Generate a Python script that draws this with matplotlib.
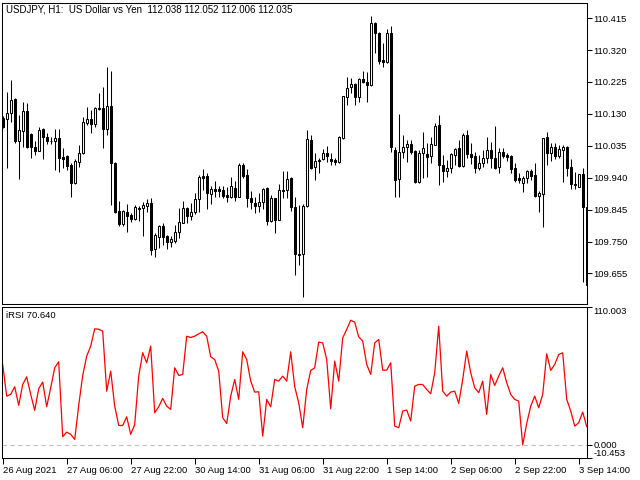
import matplotlib
matplotlib.use("Agg")
import matplotlib.pyplot as plt
import numpy as np

# USDJPY H1 candles
opens = [110.118, 110.115, 110.132, 110.174, 110.049, 110.079, 110.138, 110.070, 110.031, 110.019,
         110.085, 110.061, 110.050, 110.049, 110.058, 110.001, 110.004, 109.978, 109.924, 109.987,
         110.013, 110.103, 110.115, 110.100, 110.147, 110.147, 110.085, 110.153, 109.984, 109.841,
         109.802, 109.838, 109.829, 109.817, 109.850, 109.850, 109.856, 109.865, 109.727, 109.763,
         109.796, 109.766, 109.748, 109.751, 109.778, 109.805, 109.850, 109.826, 109.838, 109.876,
         109.945, 109.945, 109.891, 109.906, 109.906, 109.903, 109.888, 109.882, 109.909, 109.882,
         109.978, 109.948, 109.879, 109.864, 109.856, 109.867, 109.909, 109.811, 109.879, 109.814,
         109.903, 109.903, 109.939, 109.853, 109.713, 109.713, 109.856, 110.052, 109.972, 109.993,
         109.996, 110.013, 109.996, 109.993, 109.987, 110.058, 110.180, 110.210, 110.219, 110.180,
         110.234, 110.225, 110.216, 110.401, 110.371, 110.290, 110.284, 110.371, 110.022, 109.936,
         110.016, 110.031, 110.040, 110.019, 109.927, 110.013, 110.010, 110.004, 110.037, 110.097,
         109.978, 109.960, 109.969, 110.007, 110.028, 109.975, 110.067, 110.010, 110.004, 109.969,
         109.984, 109.998, 110.022, 109.998, 109.972, 110.016, 110.007, 110.004, 109.969, 109.939,
         109.924, 109.939, 109.960, 109.948, 109.885, 109.891, 110.061, 110.013, 110.031, 110.004,
         110.022, 110.031, 109.972, 109.919, 109.912, 109.951, 109.853]
highs = [110.124, 110.195, 110.231, 110.177, 110.127, 110.165, 110.162, 110.073, 110.049, 110.091,
         110.088, 110.073, 110.061, 110.085, 110.085, 110.028, 110.007, 109.984, 109.996, 110.037,
         110.121, 110.150, 110.141, 110.150, 110.192, 110.210, 110.269, 110.258, 109.986, 109.870,
         109.843, 109.861, 109.835, 109.859, 109.856, 109.867, 109.876, 109.879, 109.775, 109.799,
         109.805, 109.769, 109.766, 109.799, 109.850, 109.870, 109.853, 109.864, 109.894, 109.948,
         109.966, 109.954, 109.915, 109.930, 109.915, 109.915, 109.912, 109.942, 109.930, 109.984,
         109.984, 109.966, 109.900, 109.882, 109.894, 109.909, 109.911, 109.888, 109.881, 109.921,
         109.960, 109.960, 109.941, 109.882, 109.859, 109.862, 110.082, 110.067, 110.013, 109.999,
         110.025, 110.034, 110.013, 109.999, 110.064, 110.183, 110.240, 110.237, 110.222, 110.237,
         110.258, 110.255, 110.421, 110.403, 110.373, 110.341, 110.383, 110.392, 110.031, 110.129,
         110.067, 110.052, 110.052, 110.021, 110.022, 110.076, 110.043, 110.061, 110.103, 110.127,
         110.007, 109.993, 110.013, 110.028, 110.052, 110.073, 110.082, 110.043, 110.016, 110.007,
         110.022, 110.061, 110.046, 110.094, 110.028, 110.028, 110.013, 110.007, 109.984, 109.954,
         109.945, 109.963, 109.966, 109.984, 109.900, 110.058, 110.076, 110.043, 110.043, 110.037,
         110.037, 110.034, 109.996, 109.957, 109.951, 109.969, 109.894]
lows = [110.088, 109.969, 110.106, 110.043, 109.936, 110.031, 110.028, 109.998, 110.007, 110.019,
        109.996, 110.040, 110.040, 109.963, 109.957, 109.969, 109.963, 109.882, 109.921, 109.972,
        110.010, 110.097, 110.073, 110.091, 110.141, 110.028, 110.067, 109.859, 109.835, 109.796,
        109.796, 109.778, 109.808, 109.814, 109.811, 109.766, 109.838, 109.710, 109.704, 109.730,
        109.739, 109.727, 109.733, 109.745, 109.760, 109.805, 109.805, 109.814, 109.832, 109.838,
        109.903, 109.847, 109.861, 109.882, 109.882, 109.879, 109.867, 109.879, 109.870, 109.882,
        109.939, 109.853, 109.847, 109.835, 109.838, 109.847, 109.799, 109.808, 109.775, 109.814,
        109.879, 109.879, 109.841, 109.650, 109.680, 109.585, 109.853, 109.966, 109.933, 109.954,
        109.993, 109.987, 109.978, 109.978, 109.984, 110.055, 110.156, 110.192, 110.156, 110.165,
        110.222, 110.165, 110.214, 110.311, 110.278, 110.269, 110.281, 110.016, 109.882, 109.882,
        109.998, 109.986, 110.010, 109.924, 109.925, 109.939, 109.942, 109.984, 110.036, 109.918,
        109.927, 109.942, 109.954, 109.978, 109.972, 109.972, 109.998, 109.981, 109.954, 109.963,
        109.972, 109.984, 109.969, 109.966, 109.954, 109.998, 109.990, 109.954, 109.927, 109.924,
        109.897, 109.924, 109.933, 109.882, 109.838, 109.793, 109.978, 109.990, 109.996, 109.998,
        109.927, 109.945, 109.906, 109.906, 109.911, 109.629, 109.579]
closes = [110.091, 110.132, 110.171, 110.049, 110.082, 110.138, 110.031, 110.031, 110.019, 110.082,
          110.061, 110.049, 110.048, 110.058, 109.998, 109.996, 109.975, 109.924, 109.990, 110.013,
          110.106, 110.115, 110.100, 110.147, 110.144, 110.085, 110.153, 109.984, 109.838, 109.802,
          109.841, 109.826, 109.817, 109.853, 109.848, 109.859, 109.865, 109.725, 109.769, 109.796,
          109.763, 109.748, 109.757, 109.778, 109.808, 109.850, 109.826, 109.838, 109.876, 109.942,
          109.939, 109.894, 109.906, 109.900, 109.900, 109.885, 109.882, 109.915, 109.882, 109.978,
          109.945, 109.879, 109.867, 109.856, 109.867, 109.906, 109.811, 109.879, 109.814, 109.903,
          109.901, 109.936, 109.853, 109.713, 109.711, 109.856, 110.055, 109.969, 109.990, 109.991,
          110.013, 110.004, 109.990, 109.987, 110.061, 110.183, 110.207, 110.219, 110.180, 110.234,
          110.225, 110.216, 110.401, 110.371, 110.287, 110.284, 110.371, 110.031, 109.933, 110.016,
          110.031, 110.040, 110.016, 109.927, 110.013, 110.028, 110.001, 110.040, 110.094, 109.978,
          109.960, 109.969, 110.010, 110.026, 109.975, 110.067, 110.010, 110.001, 109.969, 109.984,
          109.998, 110.022, 109.998, 109.969, 110.016, 110.004, 110.001, 109.966, 109.933, 109.933,
          109.939, 109.960, 109.945, 109.885, 109.894, 110.058, 110.013, 110.031, 110.004, 110.025,
          110.031, 109.969, 109.921, 109.922, 109.951, 109.853, 109.620]

rsi = [64.2, 38.9, 40.3, 46.4, 31.5, 48.2, 54.3, 40.3, 27.5, 44.8,
       50.1, 30.4, 45.6, 61.5, 66.3, 6.5, 10.2, 8.4, 4.4, 31.5,
       55.4, 70.8, 78.8, 92.6, 92.3, 90.7, 42.9, 58.8, 30.9, 15.5,
       15.5, 22.4, 8.4, 16.3, 54.9, 73.5, 65.5, 78.8, 25.6, 30.4,
       37.1, 30.9, 28.3, 61.5, 55.4, 56.2, 86.7, 85.7, 86.7, 88.6,
       90.2, 86.7, 70.3, 68.1, 58.8, 21.7, 17.1, 38.9, 52.2, 36.3,
       74.3, 68.1, 50.9, 42.1, 42.4, 7.0, 36.3, 30.4, 52.2, 50.9,
       54.9, 50.9, 74.3, 46.4, 33.6, 13.7, 44.2, 59.4, 61.5, 82.0,
       81.4, 68.1, 28.8, 66.8, 50.9, 85.4, 92.1, 99.5, 97.9, 86.2,
       82.8, 64.2, 56.2, 81.4, 84.1, 59.6, 59.6, 65.5, 15.1, 13.7,
       27.0, 27.8, 19.0, 46.9, 48.2, 48.2, 44.2, 40.8, 57.5, 94.7,
       42.9, 38.9, 42.1, 42.9, 33.1, 52.2, 74.8, 57.5, 45.6, 41.6,
       50.9, 24.3, 56.2, 47.4, 54.9, 61.5, 49.6, 40.3, 36.3, 34.9,
       0.0, 17.1, 30.9, 38.9, 29.6, 40.3, 72.7, 59.4, 64.2, 72.1,
       73.5, 36.3, 27.0, 15.0, 17.7, 26.2, 14.5]

price_ticks = [110.415, 110.320, 110.225, 110.130, 110.035, 109.940, 109.845, 109.750, 109.655]
time_ticks = [0, 16, 32, 48, 64, 80, 96, 112, 128, 144]
time_labels = ["26 Aug 2021", "27 Aug 06:00", "27 Aug 22:00", "30 Aug 14:00", "31 Aug 06:00",
               "31 Aug 22:00", "1 Sep 14:00", "2 Sep 06:00", "2 Sep 22:00", "3 Sep 14:00"]
title = "USDJPY, H1:  US Dollar vs Yen  112.038 112.052 112.006 112.035"
rsi_title = "iRSI 70.640"
rsi_lo, rsi_hi = -10.453, 110.003

plt.rcParams["font.family"] = ["Liberation Sans", "DejaVu Sans"]
fs = 6.8

fig = plt.figure(figsize=(6.4, 4.8), dpi=100)
W, H = 640, 480
ax = fig.add_axes([2 / W, 1 - 304 / H, 585 / W, 301 / H])
ax2 = fig.add_axes([2 / W, 1 - 458 / H, 585 / W, 151 / H])

x = np.arange(len(closes))
o, hi, lo, c = map(np.array, (opens, highs, lows, closes))
up = c >= o

# wicks, then bodies on top
ax.vlines(x, lo, hi, color="black", lw=0.75, zorder=2)
body_bottom = np.minimum(o, c)
body_h = np.maximum(np.abs(c - o), 0.0015)
ax.bar(x[up], body_h[up], bottom=body_bottom[up], width=0.6, facecolor="white",
       edgecolor="black", linewidth=0.75, zorder=3)
ax.bar(x[~up], body_h[~up], bottom=body_bottom[~up], width=0.6, facecolor="black",
       edgecolor="black", linewidth=0.75, zorder=3)

ax.set_xlim(-0.175, 146.07)
ax.set_ylim(109.564, 110.460)
ax.set_xticks([])
ax.yaxis.tick_right()
ax.set_yticks(price_ticks, [f"{p:.3f}" for p in price_ticks])
ax.tick_params(axis="y", direction="out", length=3.5, width=0.75, pad=1, labelsize=fs)
ax.text(4 / 585, 1 - 7 / 301, title, transform=ax.transAxes, fontsize=fs + 0.2, va="center", ha="left")

# RSI pane
ax2.plot(x, rsi, color="#ff0000", lw=0.9)
ax2.axhline(0, color="#c0c0c0", lw=0.8, ls=(0, (4, 3)))
ax2.set_xlim(-0.175, 146.07)
ax2.set_ylim(rsi_lo, rsi_hi)
ax2.yaxis.tick_right()
ax2.set_yticks([rsi_hi, 0, rsi_lo], [f"{rsi_hi:.3f}", "0.000", f"{rsi_lo:.3f}"])
ax2.tick_params(axis="y", direction="out", length=3.5, width=0.75, pad=1, labelsize=fs)
labs = ax2.get_yticklabels()
labs[0].set_va("top")
labs[2].set_va("bottom")
ax2.set_xticks(time_ticks, time_labels)
ax2.tick_params(axis="x", direction="out", length=4, width=0.75, pad=1.5, labelsize=fs)
for t in ax2.get_xticklabels():
    t.set_ha("left")
ax2.text(4 / 585, 1 - 9 / 151, rsi_title, transform=ax2.transAxes, fontsize=fs, va="center", ha="left")

for a in (ax, ax2):
    for s in a.spines.values():
        s.set_linewidth(0.75)

fig.savefig("out.png", dpi=100)
